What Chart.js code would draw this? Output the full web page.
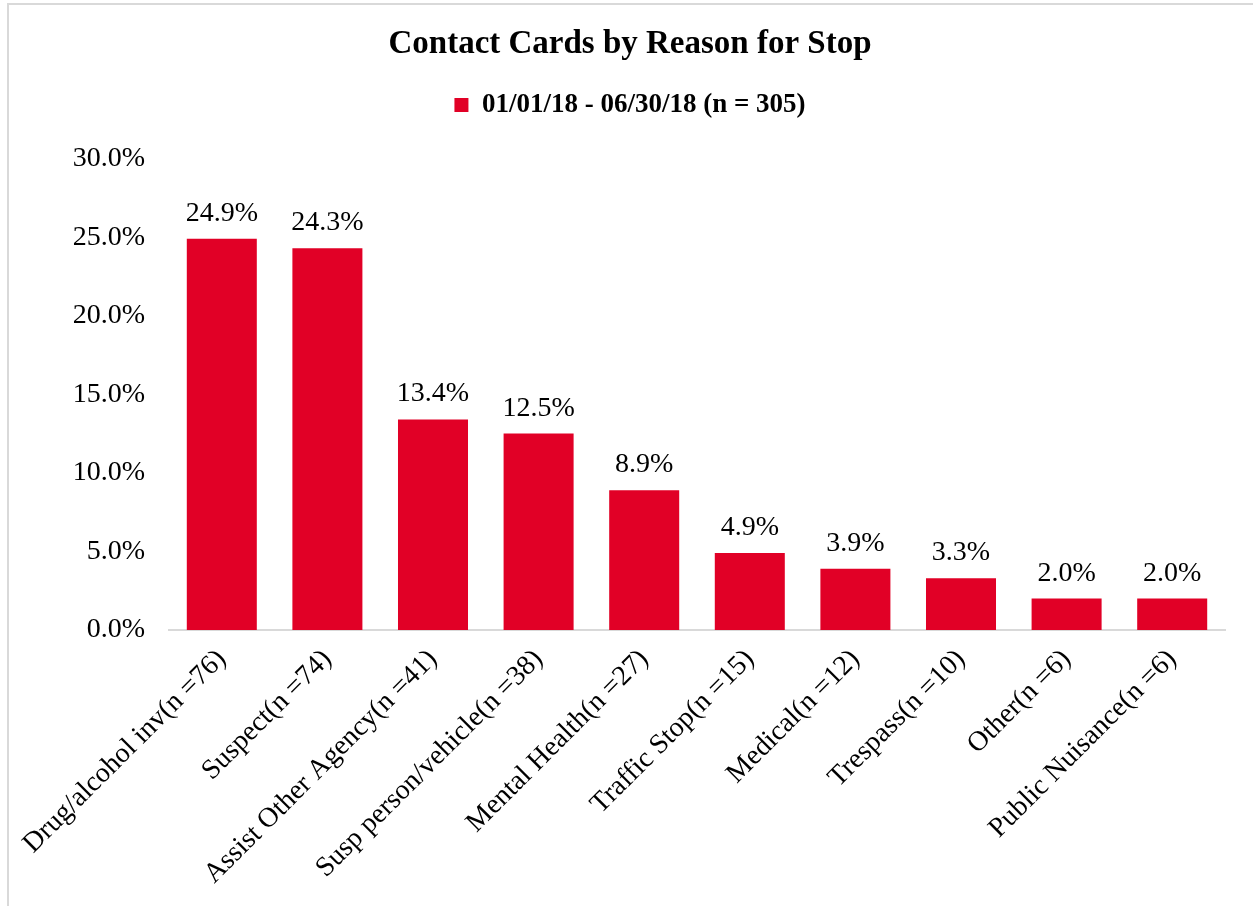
<!DOCTYPE html>
<html>
<head>
<meta charset="utf-8">
<title>Contact Cards by Reason for Stop</title>
<script src="https://cdn.jsdelivr.net/npm/chart.js@4/dist/chart.umd.min.js"></script>
<style>
  html, body { margin: 0; padding: 0; background: #ffffff; }
  #wrap { position: relative; width: 1253px; height: 906px; overflow: hidden; }
  #frame { position: absolute; left: 7px; top: 3px; width: 1300px; height: 950px;
           border-top: 2px solid #d9d9d9; border-left: 2px solid #d9d9d9; box-sizing: border-box; }
  #chart { position: absolute; left: 0; top: 0; }
</style>
</head>
<body>
<div id="wrap">
  <div id="frame"></div>
  <canvas id="chart" width="1253" height="906"></canvas>
</div>
<script>
// Reasons for stop, with card counts, and their share of all cards (%)
const reasons = [
  'Drug/alcohol inv', 'Suspect', 'Assist Other Agency', 'Susp person/vehicle',
  'Mental Health', 'Traffic Stop', 'Medical', 'Trespass', 'Other', 'Public Nuisance'
];
const counts = [76, 74, 41, 38, 27, 15, 12, 10, 6, 6];
const shares = [24.9, 24.3, 13.4, 12.5, 8.9, 4.9, 3.9, 3.3, 2.0, 2.0];
const seriesName = '01/01/18 - 06/30/18 (n = 305)';
const yTicks = [0, 5, 10, 15, 20, 25, 30];

const categoryLabels = reasons.map((r, i) => r + '(n =' + counts[i] + ')');

const SERIF = "'Liberation Serif', 'Times New Roman', Times, serif";
const RED = '#E10026';

// Empty layout box that leaves a gap between the legend and the plot area
const legendGap = {
  id: 'legendGap',
  beforeInit(chart) {
    const gap = {
      position: 'top',
      weight: 1,
      fullSize: true,
      options: {},
      top: 0, left: 0, right: 0, bottom: 0, width: 0, height: 0,
      isHorizontal() { return true; },
      update(maxWidth) { this.width = maxWidth; this.height = 30; },
      draw() {}
    };
    Chart.layouts.addBox(chart, gap);
  }
};

// Writes each bar's percentage just above it
const valueLabels = {
  id: 'valueLabels',
  afterDatasetsDraw(chart) {
    const ctx = chart.ctx;
    const meta = chart.getDatasetMeta(0);
    const data = chart.data.datasets[0].data;
    ctx.save();
    ctx.font = '28px ' + SERIF;
    ctx.fillStyle = '#000000';
    ctx.textAlign = 'center';
    ctx.textBaseline = 'alphabetic';
    meta.data.forEach((bar, i) => {
      ctx.fillText(data[i].toFixed(1) + '%', bar.x, bar.y - 18);
    });
    ctx.restore();
  }
};

new Chart(document.getElementById('chart'), {
  type: 'bar',
  data: {
    labels: categoryLabels,
    datasets: [{
      label: seriesName,
      data: shares,
      backgroundColor: RED,
      borderWidth: 0,
      barPercentage: 0.663,
      categoryPercentage: 1.0
    }]
  },
  options: {
    responsive: false,
    animation: false,
    devicePixelRatio: 1,
    layout: { padding: { left: 35, right: 28, top: 0, bottom: 0 } },
    plugins: {
      title: {
        display: true,
        text: 'Contact Cards by Reason for Stop',
        color: '#000000',
        font: { family: SERIF, size: 33, weight: 'bold' },
        padding: { top: 25, bottom: 7 }
      },
      legend: {
        display: true,
        position: 'top',
        labels: {
          color: '#000000',
          font: { family: SERIF, size: 27, weight: 'bold' },
          boxWidth: 14,
          boxHeight: 14,
          padding: 20
        }
      },
      tooltip: { enabled: false }
    },
    scales: {
      x: {
        grid: { display: false, drawTicks: false },
        border: { display: true, color: '#d9d9d9', width: 2 },
        ticks: {
          color: '#000000',
          font: { family: SERIF, size: 28 },
          minRotation: 45,
          maxRotation: 45,
          autoSkip: false,
          padding: 13
        },
        afterFit(scale) { scale.height = 276; }
      },
      y: {
        min: 0,
        max: 30,
        grid: { display: false, drawTicks: false },
        border: { display: false },
        afterBuildTicks(scale) { scale.ticks = yTicks.map(v => ({ value: v })); },
        ticks: {
          color: '#000000',
          font: { family: SERIF, size: 28 },
          padding: 24,
          callback: (v) => Number(v).toFixed(1) + '%'
        },
        afterFit(scale) { scale.width = 134; }
      }
    }
  },
  plugins: [legendGap, valueLabels]
});
</script>
</body>
</html>
